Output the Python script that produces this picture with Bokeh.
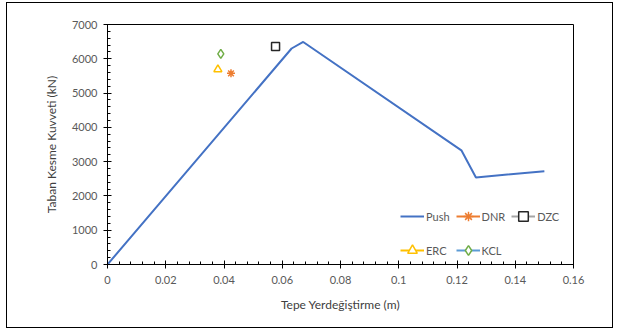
from bokeh.plotting import figure
from bokeh.models import Legend, LegendItem, FixedTicker, Range1d
from bokeh.embed import file_html
from bokeh.resources import INLINE

push_x = [0.0, 0.0632, 0.0672, 0.1215, 0.1265, 0.150]
push_y = [0, 6300, 6490, 3330, 2540, 2720]
dnr_x, dnr_y = [0.0424], [5575]
dzc_x, dzc_y = [0.0577], [6355]
erc_x, erc_y = [0.0379], [5690]
kcl_x, kcl_y = [0.0389], [6145]

x_ticks = [0, 0.02, 0.04, 0.06, 0.08, 0.1, 0.12, 0.14, 0.16]
x_labels = {0: "0", 0.02: "0.02", 0.04: "0.04", 0.06: "0.06", 0.08: "0.08",
            0.1: "0.1", 0.12: "0.12", 0.14: "0.14", 0.16: "0.16"}
y_ticks = [0, 1000, 2000, 3000, 4000, 5000, 6000, 7000]

FONT = "Lato"
TXT = "#595959"

p = figure(width=607, height=326, output_backend="svg", toolbar_location=None,
           x_range=Range1d(0, 0.16), y_range=Range1d(0, 7000),
           min_border_left=100, min_border_right=41, min_border_top=21,
           min_border_bottom=65)
p.outline_line_color = "black"
p.outline_line_width = 1
p.border_fill_color = "white"
p.background_fill_color = "white"
p.xgrid.visible = False
p.ygrid.visible = False

p.xaxis.ticker = FixedTicker(ticks=x_ticks,
                             minor_ticks=[i * 0.004 for i in range(41)])
p.yaxis.ticker = FixedTicker(ticks=y_ticks,
                             minor_ticks=[i * 200 for i in range(36)])
p.xaxis.major_label_overrides = x_labels
for ax in (p.xaxis, p.yaxis):
    ax.axis_line_color = "black"
    ax.major_tick_line_color = "black"
    ax.minor_tick_line_color = "black"
    ax.major_tick_in = 4
    ax.major_tick_out = 4
    ax.minor_tick_in = 3
    ax.minor_tick_out = 0
    ax.major_label_text_font = FONT
    ax.major_label_text_font_size = "11px"
    ax.major_label_text_color = TXT
    ax.axis_label_text_font = FONT
    ax.axis_label_text_font_size = "12px"
    ax.axis_label_text_color = "#404040"
    ax.axis_label_text_font_style = "normal"
p.xaxis.axis_label = "Tepe Yerdeğiştirme (m)"
p.yaxis.axis_label = "Taban Kesme Kuvveti (kN)"
p.xaxis.major_label_standoff = 7
p.xaxis.axis_label_standoff = 10
p.yaxis.major_label_standoff = 6
p.yaxis.axis_label_standoff = 10

r_push = p.line(push_x, push_y, line_color="#4472C4", line_width=2)
r_dnr = p.scatter(dnr_x, dnr_y, marker="asterisk", size=8, line_color="#ED7D31",
                  line_width=1.5)
r_dzc = p.scatter(dzc_x, dzc_y, marker="square", size=8, line_color="#262626",
                  fill_color="white", line_width=1.5)
r_erc = p.scatter(erc_x, erc_y, marker="triangle", size=8, line_color="#FFC000",
                  fill_color="white", line_width=1.5)
r_kcl = p.scatter(kcl_x, kcl_y, marker="diamond", size=9, line_color="#70AD47",
                  fill_color="white", line_width=1.5)

# legend line parts (kept outside the visible range)
l_dnr = p.line([0, 0], [-1, -1], line_color="#ED7D31", line_width=2)
l_dzc = p.line([0, 0], [-1, -1], line_color="#A5A5A5", line_width=2)
l_erc = p.line([0, 0], [-1, -1], line_color="#FFC000", line_width=2)
l_kcl = p.line([0, 0], [-1, -1], line_color="#5B9BD5", line_width=2)

legend = Legend(items=[
    LegendItem(label="Push", renderers=[r_push]),
    LegendItem(label="ERC", renderers=[l_erc, r_erc]),
    LegendItem(label="DNR", renderers=[l_dnr, r_dnr]),
    LegendItem(label="KCL", renderers=[l_kcl, r_kcl]),
    LegendItem(label="DZC", renderers=[l_dzc, r_dzc]),
], location=(293, 0), nrows=2, border_line_alpha=0, background_fill_alpha=0,
    label_text_font=FONT, label_text_font_size="11px", label_text_color=TXT,
    glyph_width=24, glyph_height=28, label_height=28, spacing=6, padding=0,
    label_standoff=2, margin=0)
p.add_layout(legend)

p.styles = {"border": "1.5px solid black", "box-sizing": "border-box",
            "margin-left": "6px", "margin-top": "2px"}

open("out.html", "w").write(file_html(p, INLINE))
